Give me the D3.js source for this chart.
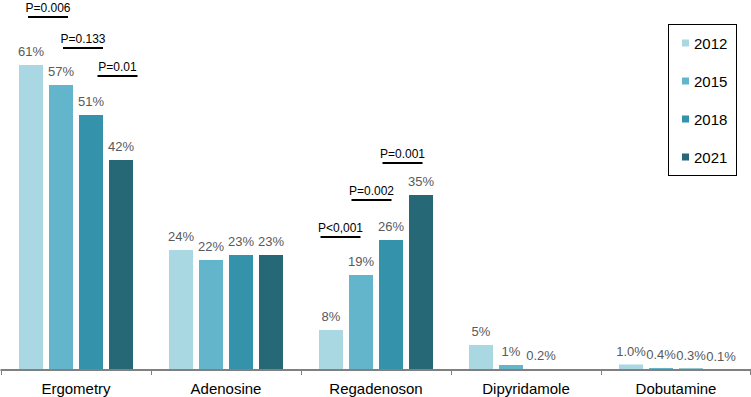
<!DOCTYPE html>
<meta charset="utf-8">
<head>
<style>
body { margin: 0; background: #fff; }
svg { font-family: "Liberation Sans", Arial, sans-serif; }
</style>
</head>
<body>
<svg width="751" height="397"></svg>
<script src="https://d3js.org/d3.v7.min.js"></script>
<script>
// data
let categories = ['Ergometry', 'Adenosine', 'Regadenoson', 'Dipyridamole', 'Dobutamine'];
let years = ['2012', '2015', '2018', '2021'];
let v2012 = [61, 24, 8, 5, 1.1];
let v2015 = [57, 22, 19, 1, 0.4];
let v2018 = [51, 23, 26, 0.2, 0.3];
let v2021 = [42, 23, 35, 0, 0.1];
let l2012 = ['61%', '24%', '8%', '5%', '1.0%'];
let l2015 = ['57%', '22%', '19%', '1%', '0.4%'];
let l2018 = ['51%', '23%', '26%', '0.2%', '0.3%'];
let l2021 = ['42%', '23%', '35%', '', '0.1%'];
let colors = ['#a9d8e3', '#63b5cc', '#3592ab', '#266876'];

// p-value brackets: category, year pair, text, bracket level (in %)
let pCats = ['Ergometry', 'Ergometry', 'Ergometry', 'Regadenoson', 'Regadenoson', 'Regadenoson'];
let pFrom = ['2012', '2015', '2018', '2012', '2015', '2018'];
let pTo = ['2015', '2018', '2021', '2015', '2018', '2021'];
let pText = ['P=0.006', 'P=0.133', 'P=0.01', 'P<0,001', 'P=0.002', 'P=0.001'];
let pLevel = [70.6, 64.4, 58.8, 26.6, 34, 41.4];
let pShift = [2, 7, 11.5, -5.5, -4.5, -3.5]; // small horizontal nudges (px)

let series = [v2012, v2015, v2018, v2021];
let labels = [l2012, l2015, l2018, l2021];

let svg = d3.select('svg');
let axisY = 370;

let x0 = d3.scaleBand().domain(categories).range([1, 751]);
let x1 = d3.scaleBand().domain(years).range([15, 135]).paddingInner(0.2).paddingOuter(0.1);
let y = d3.scaleLinear().domain([0, 74]).range([axisY, axisY - 370]);

let data = [];
categories.forEach((c, i) => {
    years.forEach((yr, j) => {
        data.push({cat: c, year: yr, value: series[j][i], label: labels[j][i], color: colors[j]});
    });
});

// bars
svg.selectAll('.bar')
    .data(data)
    .enter().append('rect')
        .attr('class', 'bar')
        .attr('x', d => x0(d.cat) + x1(d.year))
        .attr('y', d => y(d.value))
        .attr('width', x1.bandwidth())
        .attr('height', d => axisY - y(d.value))
        .attr('fill', d => d.color);

// value labels
svg.selectAll('.vlab')
    .data(data.filter(d => d.label))
    .enter().append('text')
        .attr('class', 'vlab')
        .attr('x', d => x0(d.cat) + x1(d.year) + x1.bandwidth() / 2)
        .attr('y', d => y(d.value) - 9)
        .attr('text-anchor', 'middle')
        .attr('font-size', 13)
        .attr('fill', '#595959')
        .text(d => d.label);

// x axis
let xAxis = svg.append('g')
    .attr('transform', `translate(0, ${axisY})`)
    .call(d3.axisBottom(x0).tickSize(0));
xAxis.select('.domain').attr('stroke', '#808080').attr('stroke-width', 2)
    .attr('d', 'M0.5,0H751');
xAxis.selectAll('text')
    .attr('y', 24).attr('dy', 0)
    .attr('font-size', 15).attr('fill', '#000')
    .attr('font-family', '"Liberation Sans", Arial, sans-serif');
// tick marks on band boundaries
svg.append('g').selectAll('line')
    .data(categories.concat(['end']))
    .enter().append('line')
        .attr('x1', (d, i) => i < categories.length ? x0(d) + 0.5 : 750.5)
        .attr('x2', (d, i) => i < categories.length ? x0(d) + 0.5 : 750.5)
        .attr('y1', axisY)
        .attr('y2', axisY + 5)
        .attr('stroke', '#808080')
        .attr('stroke-width', 1);

// p-value brackets
let pData = pText.map((t, i) => {
    let cx = x0(pCats[i]) + (x1(pFrom[i]) + x1(pTo[i]) + x1.bandwidth()) / 2 + pShift[i];
    return {text: t, cx: cx, ly: y(pLevel[i])};
});
let pg = svg.append('g');
pg.selectAll('line')
    .data(pData)
    .enter().append('line')
        .attr('x1', d => d.cx - 20)
        .attr('x2', d => d.cx + 20)
        .attr('y1', d => d.ly)
        .attr('y2', d => d.ly)
        .attr('stroke', '#000')
        .attr('stroke-width', 2);
pg.selectAll('text')
    .data(pData)
    .enter().append('text')
        .attr('x', d => d.cx)
        .attr('y', d => d.ly - 5)
        .attr('text-anchor', 'middle')
        .attr('font-size', 12)
        .attr('fill', '#000')
        .text(d => d.text);

// legend
let legend = svg.append('g');
legend.append('rect')
    .attr('x', 668.5).attr('y', 24.5)
    .attr('width', 68).attr('height', 151)
    .attr('fill', 'none').attr('stroke', '#000').attr('stroke-width', 1);
let ly = d3.scalePoint().domain(years).range([43, 157]);
let items = legend.selectAll('.item')
    .data(years)
    .enter().append('g')
        .attr('transform', d => `translate(682, ${ly(d)})`);
items.append('rect')
    .attr('x', 0).attr('y', -3.5)
    .attr('width', 7).attr('height', 7)
    .attr('fill', (d, i) => colors[i]);
items.append('text')
    .attr('x', 12).attr('y', 5.5)
    .attr('font-size', 15)
    .attr('fill', '#000')
    .text(d => d);
</script>
</body>
</html>
